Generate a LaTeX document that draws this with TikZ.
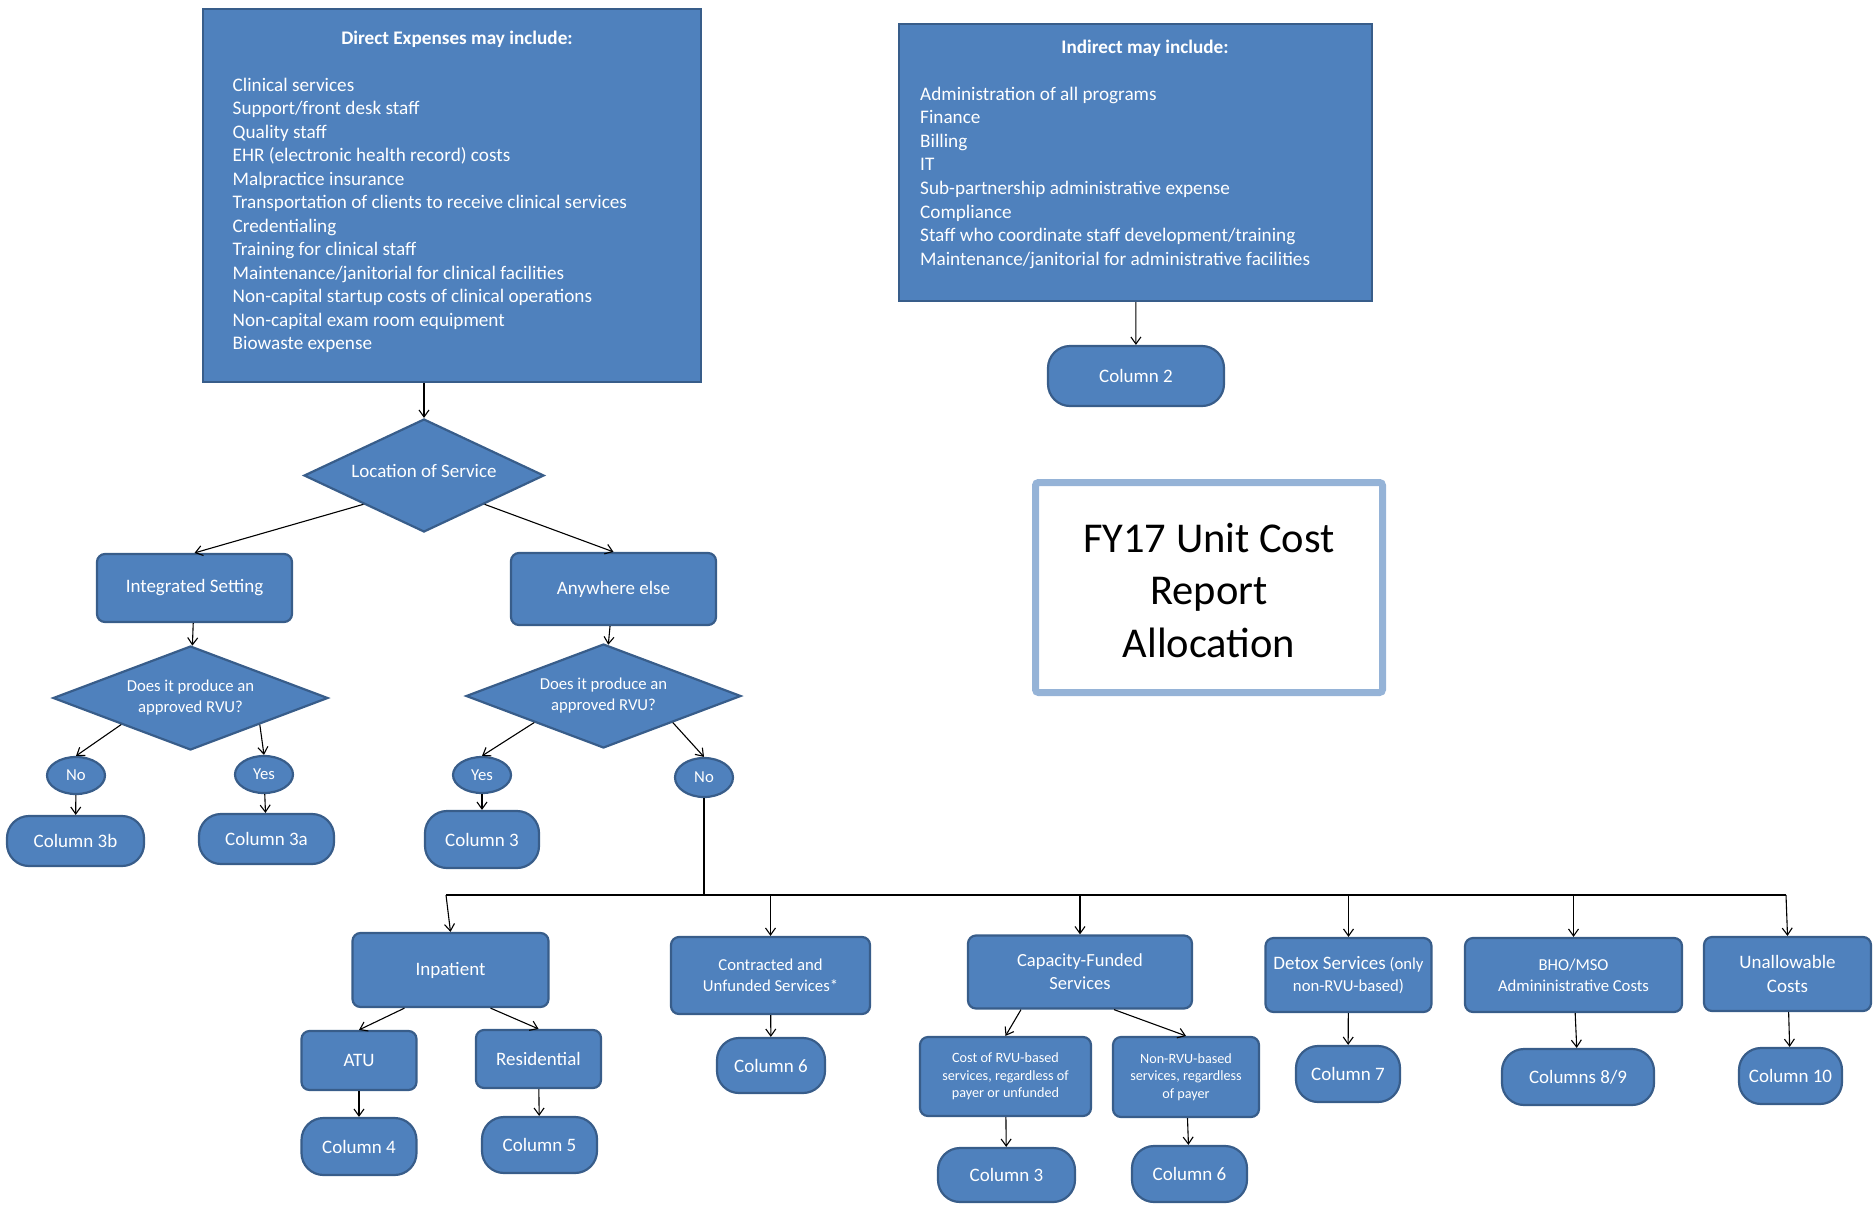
\documentclass[tikz,border=0pt]{standalone}
\usepackage{fontspec}
\setmainfont{Carlito}
\usetikzlibrary{arrows.meta,shapes.geometric}
\definecolor{ucFill}{RGB}{79,129,189}
\definecolor{ucLine}{RGB}{56,93,138}
\definecolor{ucFrame}{RGB}{149,179,215}
\colorlet{boxblue}{ucFill}
\colorlet{edgeblue}{ucLine}
\newcommand{\normfs}{\fontsize{19}{23}\selectfont}
\newcommand{\smallfs}{\fontsize{16.7}{21}\selectfont}
\newcommand{\tinyfs}{\fontsize{14.2}{17.5}\selectfont}

\begin{document}
\begin{tikzpicture}[x=1pt,y=-1pt,>={Straight Barb[length=7pt,width=10pt]},
  proc/.style={draw=edgeblue,line width=2.2pt,fill=boxblue,text=white,rounded corners=8pt,inner sep=0pt,align=center,font=\normfs},
  colterm/.style={proc,rounded corners=22pt},
  decide/.style={diamond,draw=edgeblue,line width=2.2pt,fill=boxblue,text=white,inner sep=0pt,aspect=2.5,align=center},
  answer/.style={ellipse,draw=edgeblue,line width=2.2pt,fill=boxblue,text=white,inner sep=0pt,font=\smallfs},
  listbox/.style={draw=edgeblue,line width=2pt,fill=boxblue},
  listtext/.style={text=white,inner sep=0pt,anchor=base west,font=\fontsize{19.2}{23.5}\selectfont},
  flow/.style={->,line width=1.1pt}]
\useasboundingbox (0,0) rectangle (1873,1205);

% expense lists
\node[listbox,minimum width=498pt,minimum height=373pt] (direct) at (452,195.5) {};
\node[listtext,anchor=base,font=\bfseries\fontsize{19.2}{23.5}\selectfont] (dtitle) at (457,44) {Direct Expenses may include:};
\foreach \entry [count=\i from 0] in {Clinical services,Support/front desk staff,Quality staff,EHR (electronic health record) costs,Malpractice insurance,Transportation of clients to receive clinical services,Credentialing,Training for clinical staff,Maintenance/janitorial for clinical facilities,Non-capital startup costs of clinical operations,Non-capital exam room equipment,Biowaste expense}
  \node[listtext] (d\i) at (232.5,{91+23.5*\i}) {\entry};

\node[listbox,minimum width=473pt,minimum height=277pt] (indirect) at (1135.5,162.5) {};
\node[listtext,anchor=base,font=\bfseries\fontsize{19.2}{23.5}\selectfont] (ititle) at (1145,53) {Indirect may include:};
\foreach \entry [count=\i from 0] in {Administration of all programs,Finance,Billing,IT,Sub-partnership administrative expense,Compliance,Staff who coordinate staff development/training,Maintenance/janitorial for administrative facilities}
  \node[listtext] (n\i) at (920,{100+23.6*\i}) {\entry};

\node[colterm,minimum width=176pt,minimum height=60pt] (col2) at (1136,376) {Column 2};
\draw[flow] (indirect) -- (col2);

% title
\node[draw=ucFrame,line width=7pt,rounded corners=3pt,minimum width=347pt,minimum height=210pt] (heading) at (1209,587.5) {};
\node[align=center,font=\fontsize{42.5}{52.5}\selectfont] (headtext) at (1209,590.5) {FY17 Unit Cost\\Report\\Allocation};

% location
\node[decide,minimum width=240pt,minimum height=113pt,font=\normfs,text height=0.7em,text depth=0.25em] (loc) at (424,475.5) {Location of Service};
\draw[flow] (loc.north |- direct.south) -- (loc.north);
\node[proc,minimum width=195pt,minimum height=68pt] (integ) at (194.5,588) {Integrated Setting};
\node[proc,minimum width=205pt,minimum height=72pt] (anyw) at (613.5,589) {Anywhere else};
\draw[flow] (loc.south west) -- (integ.north);
\draw[flow] (loc.south east) -- (anyw.north);

\node[decide,minimum width=275pt,minimum height=104pt,font=\smallfs] (ldia) at (190.5,698) {Does it produce an\\approved RVU?};
\node[decide,minimum width=275pt,minimum height=104pt,font=\smallfs] (rdia) at (603.5,696) {Does it produce an\\approved RVU?};
\draw[flow] (integ) -- (ldia);
\draw[flow] (anyw) -- (rdia);

\node[answer,minimum width=58pt,minimum height=37pt] (no1) at (76,775.5) {No};
\node[answer,minimum width=58pt,minimum height=37pt] (yes1) at (264,774.5) {Yes};
\node[answer,minimum width=58pt,minimum height=36pt] (yes2) at (482,775) {Yes};
\node[answer,minimum width=58pt,minimum height=39pt] (no2) at (704,777.5) {No};
\draw[flow] (ldia.south west) -- (no1.north);
\draw[flow] (ldia.south east) -- (yes1.north);
\draw[flow] (rdia.south west) -- (yes2.north);
\draw[flow] (rdia.south east) -- (no2.north);

\node[colterm,minimum width=137pt,minimum height=50pt] (c3b) at (75.5,841) {Column 3b};
\node[colterm,minimum width=135pt,minimum height=50pt] (c3a) at (266.5,839) {Column 3a};
\node[colterm,minimum width=114pt,minimum height=57pt] (c3) at (482,839.5) {Column 3};
\draw[flow] (no1) -- (c3b);
\draw[flow] (yes1) -- (c3a);
\draw[flow] (yes2) -- (c3);

% services bus
\coordinate (busL) at (446,895);
\coordinate (busR) at (1786,895);
\draw[line width=1.1pt] (no2) -- (no2 |- busL);
\draw[line width=1.1pt] (busL) -- (busR);

\node[proc,minimum width=196pt,minimum height=74pt] (inp) at (450.5,970) {Inpatient};
\node[proc,minimum width=199pt,minimum height=77pt,font=\smallfs] (contr) at (770.5,975.5) {Contracted and\\Unfunded Services*};
\node[proc,minimum width=224pt,minimum height=73pt,font=\fontsize{18.5}{23}\selectfont] (cap) at (1080,972) {Capacity-Funded\\Services};
\node[proc,minimum width=166pt,minimum height=74pt,font=\fontsize{16.7}{21.3}\selectfont] (detox) at (1348.5,975) {{\normfs Detox Services} (only\\non-RVU-based)};
\node[proc,minimum width=217pt,minimum height=74pt,font=\smallfs] (bho) at (1573.5,975) {BHO/MSO\\Admininistrative Costs};
\node[proc,minimum width=167pt,minimum height=74pt,font=\fontsize{19}{24}\selectfont] (unal) at (1787.5,974) {Unallowable\\Costs};
\draw[flow] (busL) -- (inp.north);
\draw[flow] (contr.north |- busL) -- (contr.north);
\draw[flow] (cap.north |- busL) -- (cap.north);
\draw[flow] (detox.north |- busL) -- (detox.north);
\draw[flow] (bho.north |- busL) -- (bho.north);
\draw[flow] (busR) -- (unal.north);

\node[proc,minimum width=115pt,minimum height=59pt] (atu) at (359,1060.5) {ATU};
\node[proc,minimum width=125pt,minimum height=58pt] (res) at (538.5,1059) {Residential};
\draw[flow] ([xshift=-46pt]inp.south) -- (atu.north);
\draw[flow] ([xshift=40pt]inp.south) -- (res.north);
\node[colterm,minimum width=115pt,minimum height=57pt] (c4) at (359,1146.5) {Column 4};
\node[colterm,minimum width=115pt,minimum height=56pt] (c5) at (539.5,1145) {Column 5};
\draw[flow] (atu) -- (c4);
\draw[flow] (res) -- (c5);

\node[colterm,minimum width=108pt,minimum height=55pt] (c6a) at (771,1065.5) {Column 6};
\draw[flow] (contr) -- (c6a);

\node[proc,minimum width=171pt,minimum height=79pt,font=\tinyfs] (rvu) at (1005.5,1076.5) {Cost of RVU-based\\services, regardless of\\payer or unfunded};
\node[proc,minimum width=146pt,minimum height=80pt,font=\tinyfs] (nrvu) at (1186,1077) {Non-RVU-based\\services, regardless\\of payer};
\draw[flow] ([xshift=-59pt]cap.south) -- (rvu.north);
\draw[flow] ([xshift=34pt]cap.south) -- (nrvu.north);
\node[colterm,minimum width=137pt,minimum height=54pt] (c3c) at (1006.5,1175) {Column 3};
\node[colterm,minimum width=115pt,minimum height=56pt] (c6b) at (1189.5,1174) {Column 6};
\draw[flow] (rvu) -- (c3c);
\draw[flow] (nrvu) -- (c6b);

\node[colterm,minimum width=104pt,minimum height=56pt] (c7) at (1348,1074) {Column 7};
\node[colterm,minimum width=152pt,minimum height=56pt] (c89) at (1578,1077) {Columns 8/9};
\node[colterm,minimum width=103pt,minimum height=56pt] (c10) at (1790.5,1076) {Column 10};
\draw[flow] (detox) -- (c7);
\draw[flow] (bho) -- (c89);
\draw[flow] (unal) -- (c10);
\end{tikzpicture}
\end{document}
